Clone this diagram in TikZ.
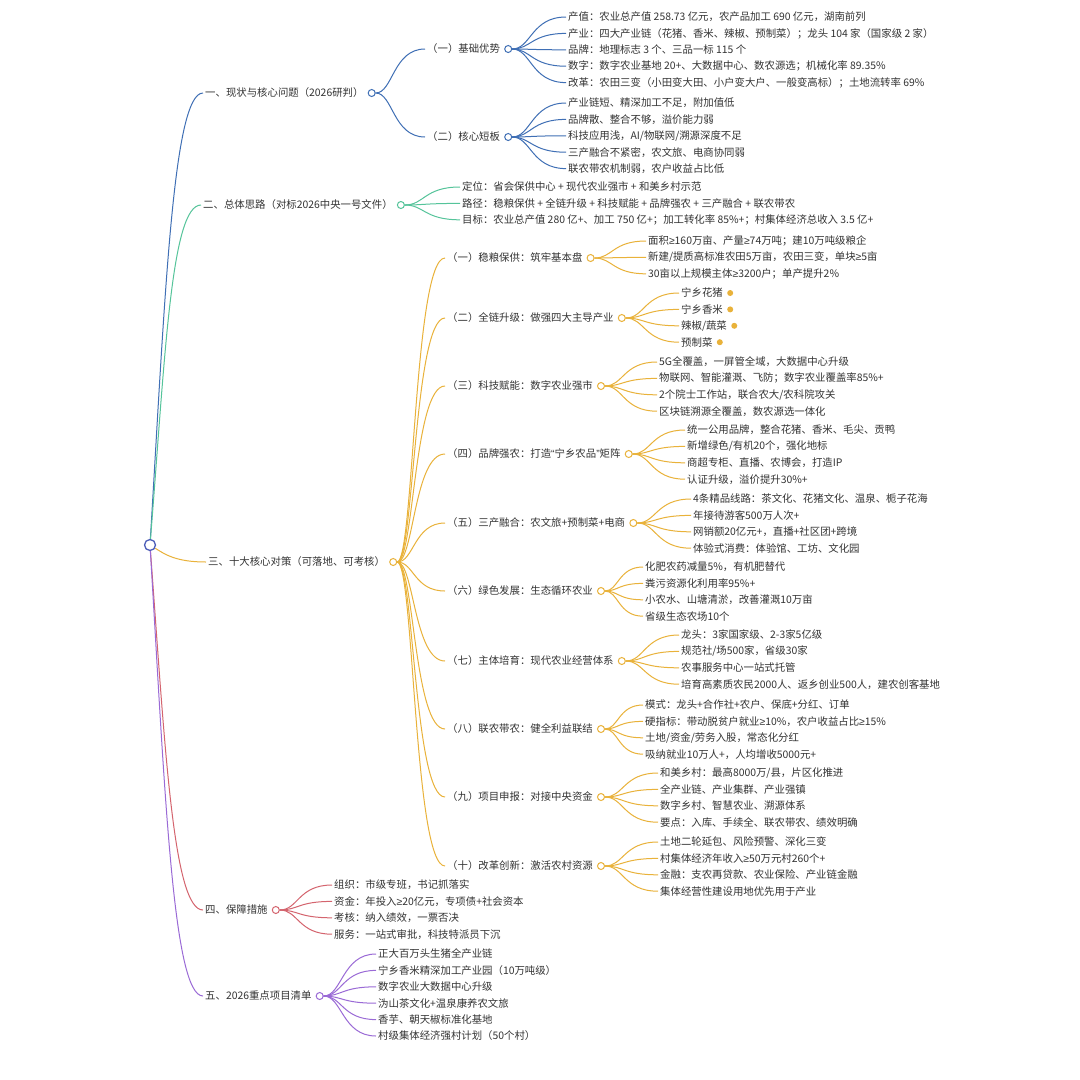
\documentclass[tikz,border=0pt]{standalone}
\usepackage{fontspec}
\setmainfont{Noto Sans CJK SC}
\newfontfamily\symfont{Liberation Sans}
\usetikzlibrary{positioning,calc}

% narrow symbols as in the original
\newcommand{\symge}{{\symfont ≥}}
\newcommand{\symlq}{{\symfont “}}
\newcommand{\symrq}{{\symfont ”}}

% branch colours
\definecolor{rootblue}{HTML}{4C5DB8}
\definecolor{secblue}{HTML}{3F6FB5}
\definecolor{secgreen}{HTML}{55C49A}
\definecolor{secorange}{HTML}{E9B23A}
\definecolor{secred}{HTML}{D4646E}
\definecolor{secpurple}{HTML}{9A6AD6}
\definecolor{txtgray}{HTML}{333333}

\tikzset{
  lbl/.style={anchor=west, inner xsep=2pt, inner ysep=1pt, text=txtgray,
    font=\fontsize{10.4}{12}\selectfont},
  knob/.style={circle, draw=#1, fill=white, line width=1pt, inner sep=0pt, minimum size=7pt},
  link/.style={draw=#1, line width=1pt},
  sconn/.style={to path={.. controls ($(\tikztostart)!0.35!(\tikztotarget |- \tikztostart)$)
    and ($(\tikztostart |- \tikztotarget)!0.35!(\tikztotarget)$) .. (\tikztotarget)}},
  trunk/.style={to path={.. controls ($(\tikztostart)!0.55!(\tikztostart |- \tikztotarget)+(15,0)$)
    and ($(\tikztotarget)+(-30,0)$) .. (\tikztotarget)}},
}

% leaves of one branch: parent, prefix, x, first y, colour, items
\newcommand{\fan}[6]{%
  \foreach \leaf [count=\i] in {#6} {
    \node[lbl] (#2-\i) at (#3,{#4+16.4*(\i-1)}) {\leaf};
    \draw[link=#5] (#1.east) to[sconn] (#2-\i.west);
  }}

\begin{document}
\begin{tikzpicture}[x=1pt, y=-1pt]

  % Canvas
  \fill[white] (0,0) rectangle (1080,1080);
  \useasboundingbox (0,0) rectangle (1080,1080);

  % Root
  \node[knob=rootblue, minimum size=11pt, line width=1.3pt] (root) at (150,545) {};

  % Main topics
  \node[lbl] (n1) at (203,93) {一、现状与核心问题（2026研判）};
  \node[knob=secblue, right=2pt of n1] (n1c) {};
  \node[lbl] (n2) at (201,205) {二、总体思路（对标2026中央一号文件）};
  \node[knob=secgreen, right=2pt of n2] (n2c) {};
  \node[lbl] (n3) at (206,562) {三、十大核心对策（可落地、可考核）};
  \node[knob=secorange, right=2pt of n3] (n3c) {};
  \node[lbl] (n4) at (203,910) {四、保障措施};
  \node[knob=secred, right=2pt of n4] (n4c) {};
  \node[lbl] (n5) at (203,996) {五、2026重点项目清单};
  \node[knob=secpurple, right=2pt of n5] (n5c) {};

  \draw[link=secblue] (root) to[trunk] (n1.west);
  \draw[link=secgreen] (root) to[trunk] (n2.west);
  \draw[link=secorange] (root) to[trunk] (n3.west);
  \draw[link=secred] (root) to[trunk] (n4.west);
  \draw[link=secpurple] (root) to[trunk] (n5.west);

  % Section one
  \node[lbl] (a1) at (425,49) {（一）基础优势};
  \node[knob=secblue, right=2pt of a1] (a1c) {};
  \node[lbl] (a2) at (425,137) {（二）核心短板};
  \node[knob=secblue, right=2pt of a2] (a2c) {};
  \draw[link=secblue] (n1c.east) to[sconn] (a1.west);
  \draw[link=secblue] (n1c.east) to[sconn] (a2.west);

  \fan{a1c}{a1}{566}{17}{secblue}{
    {产值：农业总产值 258.73 亿元，农产品加工 690 亿元，湖南前列},
    {产业：四大产业链（花猪、香米、辣椒、预制菜）；龙头 104 家（国家级 2 家）},
    {品牌：地理标志 3 个、三品一标 115 个},
    {数字：数字农业基地 20+、大数据中心、数农源选；机械化率 89.35\%},
    {改革：农田三变（小田变大田、小户变大户、一般变高标）；土地流转率 69\%}}
  \fan{a2c}{a2}{566}{103}{secblue}{
    {产业链短、精深加工不足，附加值低},
    {品牌散、整合不够，溢价能力弱},
    {科技应用浅，AI/物联网/溯源深度不足},
    {三产融合不紧密，农文旅、电商协同弱},
    {联农带农机制弱，农户收益占比低}}

  % Section two
  \fan{n2c}{b}{460}{187}{secgreen}{
    {定位：省会保供中心 + 现代农业强市 + 和美乡村示范},
    {路径：稳粮保供 + 全链升级 + 科技赋能 + 品牌强农 + 三产融合 + 联农带农},
    {目标：农业总产值 280 亿+、加工 750 亿+；加工转化率 85\%+；村集体经济总收入 3.5 亿+}}

  % Section three: ten measures
  \foreach \name/\y/\head in {
      c1/258/{（一）稳粮保供：筑牢基本盘},
      c2/318/{（二）全链升级：做强四大主导产业},
      c3/386/{（三）科技赋能：数字农业强市},
      c4/454/{（四）品牌强农：打造\symlq 宁乡农品\symrq 矩阵},
      c5/523/{（五）三产融合：农文旅+预制菜+电商},
      c6/591/{（六）绿色发展：生态循环农业},
      c7/661/{（七）主体培育：现代农业经营体系},
      c8/729/{（八）联农带农：健全利益联结},
      c9/797/{（九）项目申报：对接中央资金},
      c10/866/{（十）改革创新：激活农村资源}} {
    \node[lbl] (\name) at (445,\y) {\head};
    \node[knob=secorange, right=2pt of \name] (\name c) {};
    \draw[link=secorange] (n3c.east) to[sconn] (\name.west);
  }

  \fan{c1c}{c1}{646}{241}{secorange}{
    {面积\symge 160万亩、产量\symge 74万吨；建10万吨级粮企},
    {新建/提质高标准农田5万亩，农田三变，单块\symge 5亩},
    {30亩以上规模主体\symge 3200户；单产提升2\%}}

  \foreach \leaf [count=\i] in {宁乡花猪, 宁乡香米, 辣椒/蔬菜, 预制菜} {
    \node[lbl] (c2-\i) at (679,{293+16.4*(\i-1)}) {\leaf};
    \draw[link=secorange] (c2c.east) to[sconn] (c2-\i.west);
    \node[circle, fill=secorange, inner sep=0pt, minimum size=6pt, right=2pt of c2-\i] (c2d-\i) {};
  }

  \fan{c3c}{c3}{657}{362}{secorange}{
    {5G全覆盖，一屏管全域，大数据中心升级},
    {物联网、智能灌溉、飞防；数字农业覆盖率85\%+},
    {2个院士工作站，联合农大/农科院攻关},
    {区块链溯源全覆盖，数农源选一体化}}
  \fan{c4c}{c4}{685}{430}{secorange}{
    {统一公用品牌，整合花猪、香米、毛尖、贡鸭},
    {新增绿色/有机20个，强化地标},
    {商超专柜、直播、农博会，打造IP},
    {认证升级，溢价提升30\%+}}
  \fan{c5c}{c5}{691}{499}{secorange}{
    {4条精品线路：茶文化、花猪文化、温泉、栀子花海},
    {年接待游客500万人次+},
    {网销额20亿元+，直播+社区团+跨境},
    {体验式消费：体验馆、工坊、文化园}}
  \fan{c6c}{c6}{643}{567}{secorange}{
    {化肥农药减量5\%，有机肥替代},
    {粪污资源化利用率95\%+},
    {小农水、山塘清淤，改善灌溉10万亩},
    {省级生态农场10个}}
  \fan{c7c}{c7}{679}{635}{secorange}{
    {龙头：3家国家级、2-3家5亿级},
    {规范社/场500家，省级30家},
    {农事服务中心一站式托管},
    {培育高素质农民2000人、返乡创业500人，建农创客基地}}
  \fan{c8c}{c8}{643}{705}{secorange}{
    {模式：龙头+合作社+农户、保底+分红、订单},
    {硬指标：带动脱贫户就业\symge 10\%，农户收益占比\symge 15\%},
    {土地/资金/劳务入股，常态化分红},
    {吸纳就业10万人+，人均增收5000元+}}
  \fan{c9c}{c9}{658}{773}{secorange}{
    {和美乡村：最高8000万/县，片区化推进},
    {全产业链、产业集群、产业强镇},
    {数字乡村、智慧农业、溯源体系},
    {要点：入库、手续全、联农带农、绩效明确}}
  \fan{c10c}{c10}{658}{842}{secorange}{
    {土地二轮延包、风险预警、深化三变},
    {村集体经济年收入\symge 50万元村260个+},
    {金融：支农再贷款、农业保险、产业链金融},
    {集体经营性建设用地优先用于产业}}

  % Section four
  \fan{n4c}{d}{332}{885}{secred}{
    {组织：市级专班，书记抓落实},
    {资金：年投入\symge 20亿元，专项债+社会资本},
    {考核：纳入绩效，一票否决},
    {服务：一站式审批，科技特派员下沉}}

  % Section five
  \fan{n5c}{e}{376}{954}{secpurple}{
    {正大百万头生猪全产业链},
    {宁乡香米精深加工产业园（10万吨级）},
    {数字农业大数据中心升级},
    {沩山茶文化+温泉康养农文旅},
    {香芋、朝天椒标准化基地},
    {村级集体经济强村计划（50个村）}}

\end{tikzpicture}
\end{document}
